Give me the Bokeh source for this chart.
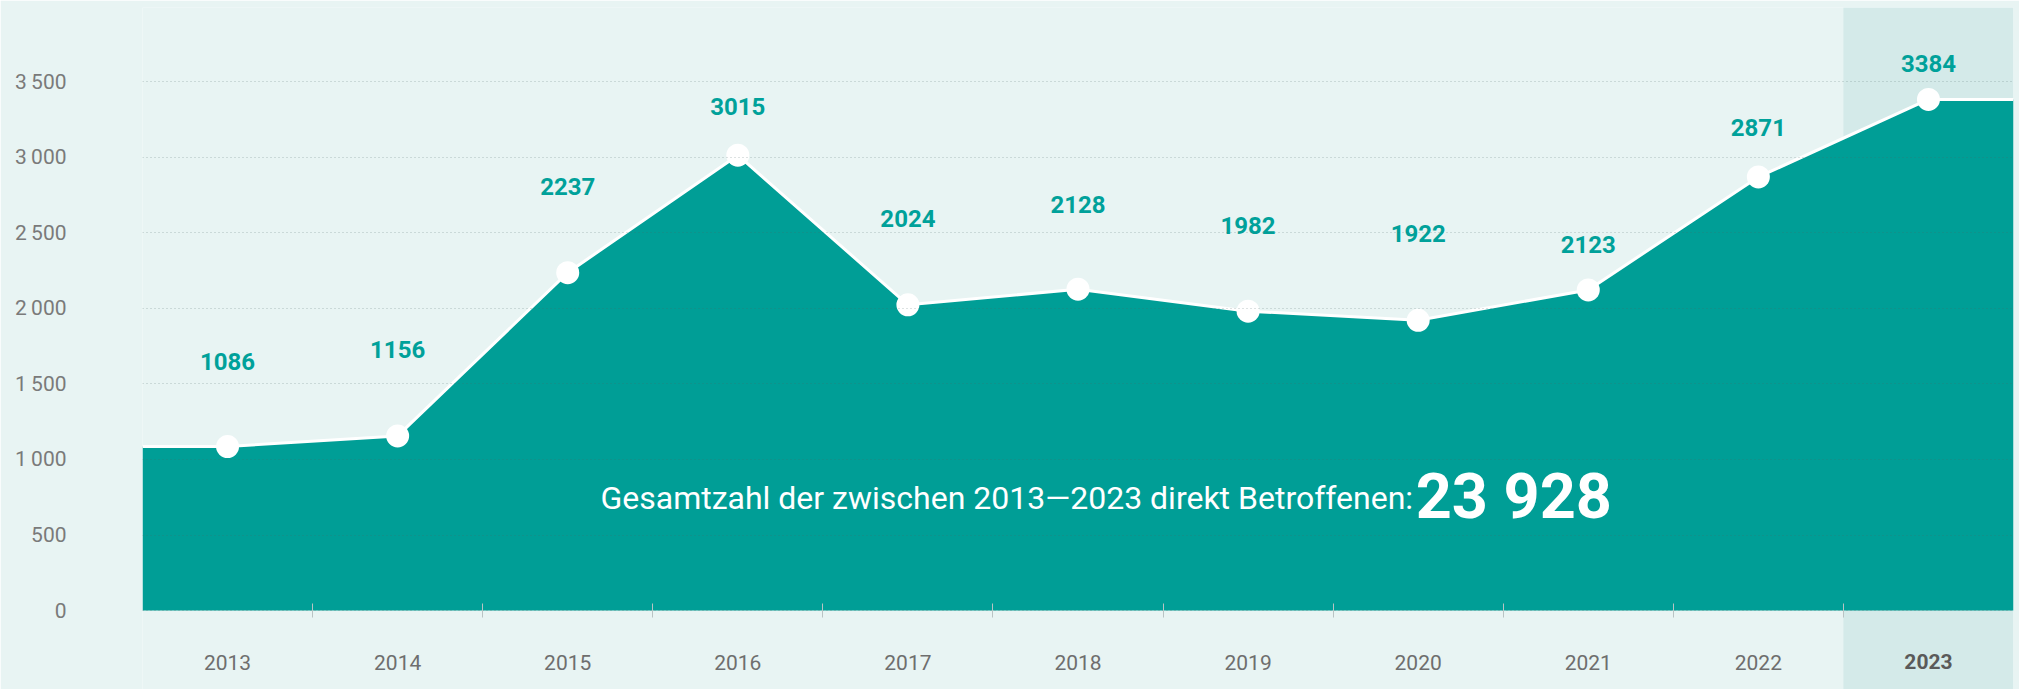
from bokeh.plotting import figure
from bokeh.models import Range1d, FixedTicker, LinearAxis, BoxAnnotation, Label
from bokeh.core.properties import value
from bokeh.embed import file_html
from bokeh.resources import INLINE

# ---- data ----
years = ["2013", "2014", "2015", "2016", "2017", "2018", "2019", "2020", "2021", "2022", "2023"]
counts = [1086, 1156, 2237, 3015, 2024, 2128, 1982, 1922, 2123, 2871, 3384]
y_ticks = [0, 500, 1000, 1500, 2000, 2500, 3000, 3500]
y_tick_labels = ["0", "500", "1\u2009000", "1\u2009500", "2\u2009000", "2\u2009500", "3\u2009000", "3\u2009500"]
highlight_year = "2023"
total_caption = "Gesamtzahl der zwischen 2013\u20142023 direkt Betroffenen:"
total_value = f"{sum(counts):,}".replace(",", " ")

# ---- style ----
BG = "#e8f4f3"
BAND = "#d4eae9"
TEAL = "#009e96"
LABEL_TEAL = "#00a19a"
FONT = "Roboto"
label_offsets = [-85, -86, -86, -49, -86, -85, -86, -87, -45, -49, -36]

n = len(years)
idx = list(range(n))
hi = years.index(highlight_year)

p = figure(width=2019, height=689,
           x_range=Range1d(-0.5, n - 0.5), y_range=Range1d(-523, 3993),
           output_backend="svg", toolbar_location=None, x_axis_location=None,
           min_border_left=142, min_border_right=6, min_border_top=7, min_border_bottom=0,
           background_fill_color=BG, border_fill_color=BG, outline_line_color=None)

# highlight band for last year
band = BoxAnnotation(left=hi - 0.5, right=hi + 0.5, fill_color=BAND, fill_alpha=1.0,
                     line_color=None, level="image")
p.add_layout(band)

# area extended flat to both edges
ax_x = [idx[0] - 0.5] + idx + [idx[-1] + 0.5]
ax_y = [counts[0]] + counts + [counts[-1]]
p.varea(x=ax_x, y1=0, y2=ax_y, fill_color=TEAL, fill_alpha=1.0, level="underlay")
p.line(ax_x, ax_y, line_color="white", line_width=3)
p.scatter(x=idx, y=counts, size=23, fill_color="white", line_color=None)

p.text(x=idx, y=counts, text=[str(c) for c in counts], y_offset=label_offsets,
       text_align="center", text_baseline="middle", text_font=value(FONT),
       text_font_style="bold", text_font_size="24px", text_color=LABEL_TEAL)

# y axis
p.yaxis.ticker = FixedTicker(ticks=y_ticks)
p.yaxis.major_label_overrides = {t: l for t, l in zip(y_ticks, y_tick_labels)}
p.yaxis.axis_line_color = None
p.yaxis.major_tick_line_color = None
p.yaxis.minor_tick_line_color = None
p.yaxis.major_label_standoff = 70
p.yaxis.major_label_text_font = FONT
p.yaxis.major_label_text_font_size = "21px"
p.yaxis.major_label_text_color = "#7a7a7a"

p.ygrid.ticker = FixedTicker(ticks=y_ticks)
p.ygrid.grid_line_color = "#4d6363"
p.ygrid.grid_line_alpha = 0.38
p.ygrid.grid_line_dash = "1 3"
p.ygrid.level = "glyph"
p.xgrid.visible = False

# x axes (regular years + highlighted year)
xa = LinearAxis(ticker=FixedTicker(ticks=idx[:hi], minor_ticks=[i + 0.5 for i in idx[:hi]]),
                major_label_overrides={i: years[i] for i in idx[:hi]},
                fixed_location=0, axis_line_color=None, major_tick_line_color=None,
                minor_tick_in=7, minor_tick_out=7, minor_tick_line_color="#b9c3c3",
                major_label_standoff=37, major_label_text_font=FONT,
                major_label_text_font_size="21px", major_label_text_color="#6e6e6e")
p.add_layout(xa, "below")
xb = LinearAxis(ticker=FixedTicker(ticks=[hi]),
                major_label_overrides={hi: years[hi]},
                fixed_location=0, axis_line_color=None, major_tick_line_color=None,
                minor_tick_line_color=None,
                major_label_standoff=37, major_label_text_font=FONT,
                major_label_text_font_style="bold",
                major_label_text_font_size="21px", major_label_text_color="#5a5a5a")
p.add_layout(xb, "below")

# total annotation
p.add_layout(Label(x=6.97, y=742, text=total_caption, text_align="right", text_baseline="middle",
                   text_font=FONT, text_font_size="32px", text_color="white"))
p.add_layout(Label(x=6.985, y=752, text=total_value, text_align="left", text_baseline="middle",
                   text_font=FONT, text_font_style="bold", text_font_size="63px", text_color="white"))

open("out.html", "w").write(file_html(p, INLINE))
